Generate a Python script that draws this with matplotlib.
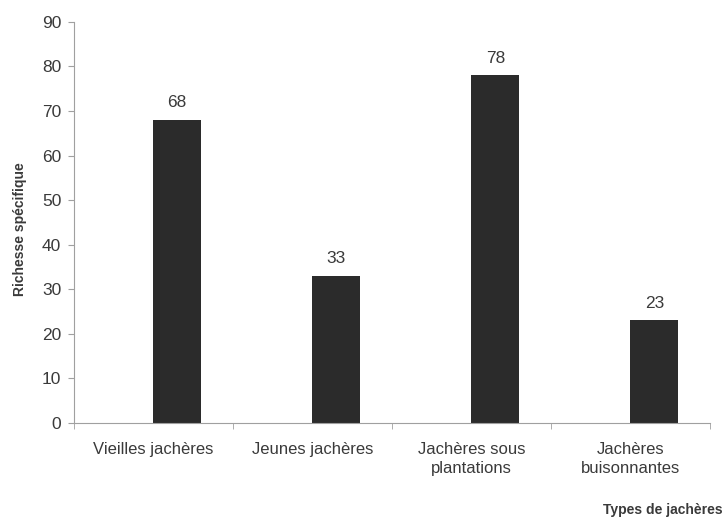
import matplotlib.pyplot as plt
import numpy as np

categories = ['Vieilles jachères', 'Jeunes jachères', 'Jachères sous\nplantations', 'Jachères\nbuisonnantes']
values = [68, 33, 78, 23]

plt.rcParams['font.family'] = ['Liberation Sans', 'DejaVu Sans']

txt = '#3a3a3a'
axc = '#a0a0a0'

fig = plt.figure(figsize=(7.23, 5.2), dpi=100)
ax = fig.add_axes([0.102, 0.1865, 0.88, 0.7715])

x = np.arange(len(categories))
bars = ax.bar(x, values, width=0.3, align='edge', color='#2b2b2b')

for b, v in zip(bars, values):
    ax.text(b.get_x() + b.get_width() / 2, v + 2.2, str(v), ha='center', va='bottom',
            fontsize=12.5, color=txt)

ax.set_xlim(-0.5, len(categories) - 0.5)
ax.set_ylim(0, 90)
ax.set_yticks(range(0, 91, 10))
ax.set_xticks(x)
ax.set_xticklabels(categories, fontsize=12, color=txt, linespacing=1.3)
ax.set_xticks(np.arange(-0.5, len(categories), 1), minor=True)
ax.tick_params(axis='x', which='major', length=0, pad=14)
ax.tick_params(axis='x', which='minor', length=4, color=axc, direction='out')
ax.tick_params(axis='y', labelsize=12.5, labelcolor=txt, length=4, color=axc, pad=5)

for s in ['top', 'right']:
    ax.spines[s].set_visible(False)
for s in ['left', 'bottom']:
    ax.spines[s].set_color(axc)

fig.text(0.027, 0.56, 'Richesse spécifique', rotation=90, ha='center', va='center',
         fontsize=10, fontweight='bold', color=txt)
fig.text(1.0, 0.02, 'Types de jachères', ha='right', va='center',
         fontsize=10, fontweight='bold', color=txt)

fig.savefig('out.png', dpi=100)
